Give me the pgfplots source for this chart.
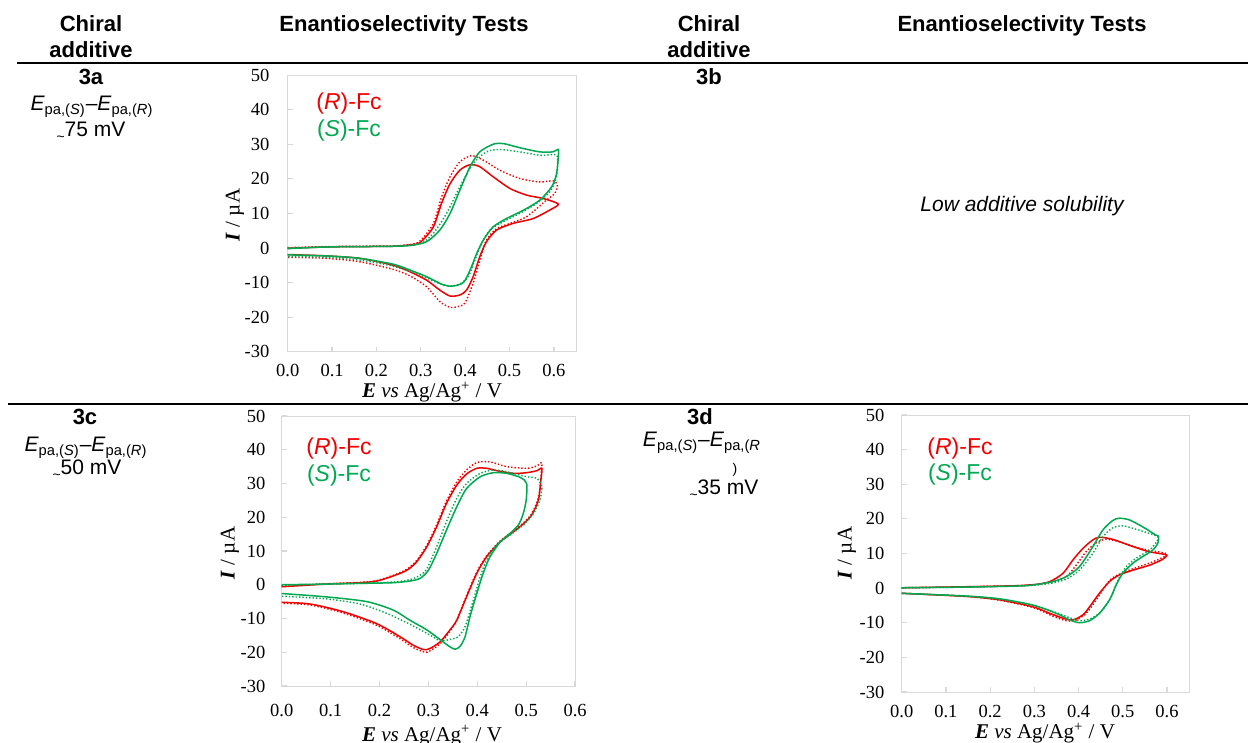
\documentclass[border=0pt]{standalone}
\usepackage{fontspec}
\setmainfont{Liberation Sans}
\newfontfamily\serifnum{Liberation Serif}
\usepackage{pgfplots}
\pgfplotsset{compat=1.18}

\definecolor{fcred}{HTML}{F00000}
\definecolor{fcgreen}{HTML}{00A850}
\definecolor{framegray}{HTML}{D9D9D9}

\newcommand\Epa{\textit{E}\textsubscript{pa,(\textit{S})}\textendash\textit{E}\textsubscript{pa,(\textit{R})}}
\newcommand\app{\raisebox{-0.4ex}{\scriptsize\textasciitilde}}
\newcommand\Elab{\textbf{\textit{E}} \textit{vs} Ag/Ag\textsuperscript{+} / V}
\newcommand\Ilab{\textbf{\textit{I}} / µA}

\pgfplotsset{cvaxis/.style={
  scale only axis, anchor=south west,
  xmin=0, ymin=-30, ymax=50,
  xtick={0,0.1,0.2,0.3,0.4,0.5,0.6},
  ytick={-30,-20,-10,0,10,20,30,40,50},
  axis line style={framegray},
  tick style={framegray, line width=0.6pt},
  tick align=inside, major tick length=2.5pt, tick pos=left,
  ticklabel style={font=\serifnum\fontsize{9.25}{11}\selectfont, inner sep=0pt},
  /pgf/number format/assume math mode=true,
  xticklabel style={/pgf/number format/.cd, fixed, fixed zerofill, precision=1},
  every axis plot/.append style={smooth, tension=0.45, mark=none},
  solid line/.style={line width=0.75pt},
  dot line/.style={line width=0.7pt, densely dotted},
}}

\begin{document}
\begin{tikzpicture}
\useasboundingbox (0,0) rectangle (624pt,371.5pt);

% 3a
\begin{axis}[cvaxis, at={(143.85pt,195.65pt)}, width=144.2pt, height=138.3pt,
  xmax=0.65, xticklabel shift=6pt, yticklabel shift=9pt]
\addplot[fcred, solid line] coordinates {
(0,-0.1) (0.088,0.3) (0.163,0.4) (0.238,0.5) (0.276,0.9) (0.298,1.5) (0.328,6) (0.347,13)
(0.366,18.6) (0.388,22.5) (0.411,24.1) (0.433,23.5) (0.463,20.6) (0.501,17.2) (0.538,15.3)
(0.576,14.3) (0.61,12.7) (0.591,11) (0.553,8.5) (0.508,7.1) (0.471,5.2) (0.448,1.8) (0.433,-2.5)
(0.418,-8.3) (0.403,-12.2) (0.388,-13.6) (0.366,-13.9) (0.343,-12.2) (0.313,-9.3) (0.276,-6.9)
(0.238,-5) (0.163,-3) (0.088,-2.3) (0,-1.9)};
\addplot[fcred, dot line] coordinates {
(0,0.1) (0.088,0.4) (0.163,0.5) (0.238,0.6) (0.276,1.0) (0.298,2.0) (0.328,7) (0.347,14.8)
(0.366,20.6) (0.388,24.9) (0.414,26.7) (0.441,25.4) (0.478,22.5) (0.523,20.1) (0.568,19.1)
(0.598,19.4) (0.608,18.2) (0.602,15.8) (0.583,13.8) (0.538,9) (0.501,7.1) (0.471,5.6) (0.448,2.3)
(0.433,-3.5) (0.418,-10.2) (0.399,-16) (0.381,-17) (0.366,-17.2) (0.343,-15.5) (0.313,-11.2)
(0.276,-8.1) (0.238,-6.2) (0.163,-4) (0.088,-3) (0,-2.7)};
\addplot[fcgreen, solid line] coordinates {
(0,-0.2) (0.088,0.3) (0.163,0.4) (0.238,0.5) (0.276,0.7) (0.313,1.8) (0.343,5.2) (0.366,10)
(0.388,16.7) (0.411,23.5) (0.433,27.8) (0.463,30) (0.486,30.2) (0.523,29) (0.568,27.8)
(0.598,27.8) (0.61,28.5) (0.61,26.4) (0.606,21.5) (0.595,17.7) (0.568,13.8) (0.531,10.9)
(0.493,8.5) (0.463,6.1) (0.441,2.3) (0.426,-1.6) (0.411,-6.4) (0.396,-10) (0.373,-11)
(0.351,-10.7) (0.313,-8.3) (0.276,-6.4) (0.238,-4.7) (0.163,-3) (0.088,-2.3) (0,-2)};
\addplot[fcgreen, dot line] coordinates {
(0,0) (0.088,0.3) (0.163,0.4) (0.238,0.5) (0.298,1.2) (0.328,4.2) (0.358,10) (0.388,17.7)
(0.418,24.4) (0.448,27.8) (0.478,28.5) (0.523,27.8) (0.568,26.8) (0.598,27) (0.608,26.4)
(0.606,20.6) (0.591,16.3) (0.561,12.9) (0.523,10) (0.486,7.6) (0.456,5.2) (0.437,1.3)
(0.422,-3.5) (0.407,-8.3) (0.388,-10.4) (0.366,-11) (0.336,-10) (0.298,-7.8) (0.238,-5.3)
(0.163,-3.5) (0.088,-2.7) (0,-2.5)};
\end{axis}

% 3c
\begin{axis}[cvaxis, at={(140.85pt,28.5pt)}, width=146.7pt, height=135pt,
  xmax=0.6, xticklabel shift=9pt, yticklabel shift=8pt]
\addplot[fcred, solid line] coordinates {
(0,-0.6) (0.092,0.2) (0.16,0.6) (0.194,1.1) (0.228,2.6) (0.256,4.3) (0.276,6.8) (0.297,11.3)
(0.317,17.2) (0.337,24.1) (0.358,29.5) (0.378,32.8) (0.399,34.5) (0.419,34.5) (0.44,33.8)
(0.474,33) (0.501,33.2) (0.522,33.8) (0.532,34.5) (0.53,31) (0.525,25.1) (0.511,20.6)
(0.494,18) (0.474,15.7) (0.447,12.7) (0.419,8.3) (0.399,3.4) (0.378,-3.6) (0.358,-10.5)
(0.344,-13.4) (0.324,-16.9) (0.303,-18.9) (0.29,-19.2) (0.269,-17.9) (0.242,-15.4)
(0.194,-11.5) (0.126,-8) (0.058,-5.7) (0,-5.2)};
\addplot[fcred, dot line] coordinates {
(0,-0.4) (0.092,0.3) (0.16,0.7) (0.194,1.2) (0.228,2.8) (0.256,4.6) (0.276,7.2) (0.297,11.8)
(0.317,17.8) (0.337,24.8) (0.358,30.5) (0.378,34) (0.399,36.2) (0.426,36.4) (0.46,35)
(0.501,34.5) (0.522,35.2) (0.532,36.1) (0.53,32) (0.525,25.8) (0.511,21) (0.494,18.3)
(0.474,16) (0.447,13) (0.419,8.6) (0.399,3.8) (0.378,-3.2) (0.358,-10.5) (0.344,-13.8)
(0.324,-17.5) (0.303,-19.6) (0.293,-20) (0.269,-18.6) (0.242,-16) (0.194,-12) (0.126,-8.4)
(0.058,-6) (0,-5.5)};
\addplot[fcgreen, solid line] coordinates {
(0,0) (0.092,0.2) (0.16,0.4) (0.228,0.6) (0.262,1.1) (0.283,1.9) (0.3,4.3) (0.317,9.3)
(0.337,16.2) (0.358,23.1) (0.378,28.5) (0.406,32) (0.433,33.2) (0.46,33) (0.488,31.8)
(0.501,30) (0.5,25.1) (0.494,21.1) (0.484,17.7) (0.467,15.2) (0.447,12.7) (0.426,8.3)
(0.412,3.4) (0.399,-2.6) (0.385,-9.5) (0.375,-15.4) (0.365,-18.2) (0.355,-19.1) (0.344,-18.4)
(0.327,-16.6) (0.297,-13.4) (0.262,-10.5) (0.228,-7.5) (0.174,-5) (0.092,-3.6) (0,-2.6)};
\addplot[fcgreen, dot line] coordinates {
(0,-0.2) (0.092,0.2) (0.16,0.4) (0.228,0.8) (0.262,1.5) (0.283,2.8) (0.297,4.8) (0.317,11.3)
(0.337,18.7) (0.358,25.6) (0.378,30) (0.406,33) (0.433,34) (0.46,33.5) (0.501,32)
(0.522,31.5) (0.532,29) (0.528,25.1) (0.515,21.1) (0.494,17.7) (0.467,14.7) (0.44,11.8)
(0.419,7.3) (0.406,2.4) (0.392,-4.5) (0.375,-12.4) (0.361,-15.4) (0.344,-16.2) (0.324,-16.6)
(0.303,-14.9) (0.262,-11.7) (0.215,-8.5) (0.16,-5.7) (0.092,-4.2) (0,-3.4)};
\end{axis}

% 3d
\begin{axis}[cvaxis, at={(450.85pt,25.5pt)}, width=143.7pt, height=138.5pt,
  xmax=0.65, xticklabel shift=6.5pt, yticklabel shift=8.5pt]
\addplot[fcred, solid line] coordinates {
(0,0.1) (0.147,0.4) (0.259,0.7) (0.305,1.1) (0.335,1.9) (0.365,4.3) (0.387,8.1) (0.41,11.5)
(0.432,13.9) (0.447,14.7) (0.477,14.1) (0.523,12) (0.56,10.5) (0.598,9.6) (0.59,8.3)
(0.56,6.6) (0.523,5.2) (0.492,3.8) (0.47,1.9) (0.447,-1.5) (0.425,-5.4) (0.41,-7.7)
(0.387,-9.2) (0.365,-8.7) (0.335,-7.3) (0.297,-5.4) (0.222,-3.4) (0.147,-2.4) (0,-1.5)};
\addplot[fcred, dot line] coordinates {
(0,0.1) (0.147,0.4) (0.259,0.7) (0.305,1.0) (0.335,1.6) (0.372,3.3) (0.395,6.7) (0.417,10.5)
(0.44,13.1) (0.462,14.1) (0.492,13.4) (0.538,11.5) (0.598,10) (0.594,9.1) (0.56,7.2)
(0.523,5.6) (0.492,4) (0.47,2.2) (0.44,-3.4) (0.417,-7.3) (0.395,-9.2) (0.372,-9.4)
(0.342,-8.1) (0.297,-5.6) (0.222,-3.5) (0.147,-2.4) (0,-1.5)};
\addplot[fcgreen, solid line] coordinates {
(0,0.1) (0.147,0.3) (0.259,0.6) (0.297,0.9) (0.342,1.9) (0.372,3.3) (0.402,6.2) (0.432,11.9)
(0.455,16.8) (0.477,19.5) (0.492,20.2) (0.515,19.7) (0.545,17.7) (0.575,15.3) (0.581,14.9)
(0.579,12.9) (0.568,11) (0.545,9.1) (0.523,7.2) (0.5,4.3) (0.485,0.9) (0.47,-3.4)
(0.447,-7.3) (0.425,-9.4) (0.402,-10) (0.38,-9.2) (0.35,-7.3) (0.297,-4.9) (0.222,-3.1)
(0.147,-2.3) (0,-1.5)};
\addplot[fcgreen, dot line] coordinates {
(0,0.1) (0.147,0.3) (0.259,0.6) (0.297,0.8) (0.342,1.5) (0.372,2.6) (0.402,5.2) (0.432,10)
(0.455,14.8) (0.477,17.4) (0.5,18) (0.53,17) (0.56,15.8) (0.579,14.9) (0.577,13.4)
(0.56,11) (0.53,8.6) (0.508,6.2) (0.489,2.3) (0.474,-2.5) (0.451,-6.8) (0.429,-8.7)
(0.406,-9.4) (0.383,-8.7) (0.35,-7.1) (0.297,-5) (0.222,-3.2) (0.147,-2.3) (0,-1.5)};
\end{axis}

% table text, rules and labels (coordinates in pixels of the reference, y from the bottom)
\begin{scope}[x=0.5pt, y=0.5pt,
  hd/.style={anchor=base, inner sep=0pt, font=\fontsize{11}{13}\selectfont\bfseries},
  bd/.style={anchor=base, inner sep=0pt, font=\fontsize{10.5}{12}\selectfont},
  lg/.style={anchor=base, inner sep=0pt, font=\fontsize{11.5}{13}\selectfont},
  xl/.style={anchor=base, inner sep=0pt, font=\serifnum\fontsize{10.5}{12}\selectfont},
  yl/.style={anchor=center, inner sep=0pt, rotate=90, font=\serifnum\fontsize{10.5}{12}\selectfont}]
\node[hd] at (91,743-32) {Chiral};
\node[hd] at (91,743-58) {additive};
\node[hd] at (404,743-32) {Enantioselectivity Tests};
\node[hd] at (709,743-32) {Chiral};
\node[hd] at (709,743-58) {additive};
\node[hd] at (1022,743-32) {Enantioselectivity Tests};
\draw[line width=1pt] (17,743-63) -- (1248,743-63);
\draw[line width=1pt] (8,743-404.5) -- (1248,743-404.5);

\node[hd] at (91,743-85) {3a};
\node[bd] at (92,743-111) {\Epa};
\node[bd] at (91,743-137) {\app75 mV};
\node[hd] at (709,743-85) {3b};
\node[bd, font=\fontsize{10.5}{12}\selectfont\itshape] at (1022,743-212) {Low additive solubility};

\node[hd] at (85,743-425) {3c};
\node[bd] at (86,743-452) {\Epa};
\node[bd] at (87,743-475) {\app50 mV};
\node[hd] at (700,743-425) {3d};
\node[bd] at (702,743-447) {\textit{E}\textsubscript{pa,(\textit{S})}\textendash\textit{E}\textsubscript{pa,(\textit{R}}};
\node[bd, font=\scriptsize] at (735,743-474) {)};
\node[bd] at (724,743-495) {\app35 mV};

\node[lg, text=fcred] at (349,743-110) {(\textit{R})-Fc};
\node[lg, text=fcgreen] at (349,743-137) {(\textit{S})-Fc};
\node[lg, text=fcred] at (339,743-455) {(\textit{R})-Fc};
\node[lg, text=fcgreen] at (339,743-482) {(\textit{S})-Fc};
\node[lg, text=fcred] at (960,743-455) {(\textit{R})-Fc};
\node[lg, text=fcgreen] at (960,743-481) {(\textit{S})-Fc};

\node[xl] at (432,743-398) {\Elab};
\node[xl] at (432,743-741.5) {\Elab};
\node[xl] at (1045,743-739) {\Elab};
\node[yl] at (235,743-215) {\Ilab};
\node[yl] at (230,743-553) {\Ilab};
\node[yl] at (847,743-553) {\Ilab};
\end{scope}
\end{tikzpicture}
\end{document}
